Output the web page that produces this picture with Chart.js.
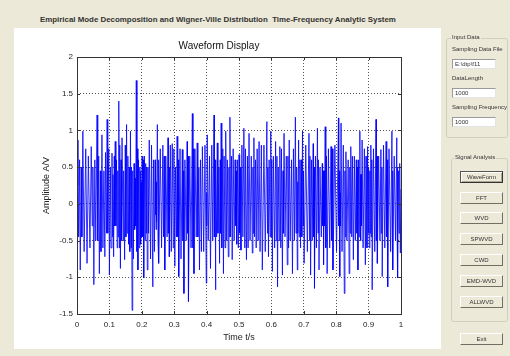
<!DOCTYPE html>
<html>
<head>
<meta charset="utf-8">
<script src="https://cdn.jsdelivr.net/npm/chart.js@4.4.1/dist/chart.umd.min.js"></script>
<style>
  body { margin: 0; width: 510px; height: 356px; background: #ece9d8; position: relative; overflow: hidden;
         font-family: "Liberation Sans", Arial, sans-serif; color: #222; }
  #apptitle { position: absolute; left: 40px; top: 15px; font-size: 7.9px; font-weight: bold; white-space: pre; color: #333; }
  #panel { position: absolute; left: 14px; top: 28px; width: 427px; height: 321px; background: #fff; }
  #wrap { position: absolute; left: 0; top: 0; width: 510px; height: 356px; }
  .group { position: absolute; border: 1px solid #d0d0bf; border-radius: 3px; }
  .glabel { position: absolute; font-size: 6px; background: #ece9d8; padding: 0 1px; color: #333; }
  .lbl { position: absolute; font-size: 6px; color: #333; white-space: nowrap; }
  .edit { position: absolute; width: 40px; height: 8px; background: #fff; font-size: 6px; line-height: 8px; padding-left: 2px;
          border: 1px solid; border-color: #9a9a9a #e4e4e4 #e4e4e4 #9a9a9a; color: #333; box-sizing: content-box; }
  .btn { position: absolute; left: 460px; width: 41px; height: 10px; font-size: 6px; line-height: 10px; text-align: center;
         background: #ece9d8; border: 1px solid; border-color: #fff #716f64 #716f64 #fff; color: #333; }
  .btn.on { border-color: #555 #333 #333 #555; box-shadow: inset 1px 1px #fff, inset -1px -1px #aca899; }
</style>
</head>
<body>
<div id="apptitle">Empirical Mode Decomposition and Wigner-Ville Distribution  Time-Frequency Analytic System</div>
<div id="panel"></div>
<div id="wrap"><canvas id="chart" width="510" height="356"></canvas></div>

<div class="group" style="left:446px; top:38px; width:60px; height:98px;"></div>
<div class="glabel" style="left:451px; top:34px;">Input Data</div>
<div class="lbl" style="left:452px; top:46px;">Sampling Data File</div>
<div class="edit" style="left:452px; top:59px;">E:\dtp\f11</div>
<div class="lbl" style="left:452px; top:75px;">DataLength</div>
<div class="edit" style="left:452px; top:88px;">1000</div>
<div class="lbl" style="left:452px; top:104px;">Sampling Frequency</div>
<div class="edit" style="left:452px; top:117px;">1000</div>

<div class="group" style="left:451px; top:158px; width:55px; height:162px;"></div>
<div class="glabel" style="left:454px; top:154px;">Signal Analysis</div>
<div class="btn on" style="top:171px;">WaveForm</div>
<div class="btn" style="top:192px;">FFT</div>
<div class="btn" style="top:212px;">WVD</div>
<div class="btn" style="top:233px;">SPWVD</div>
<div class="btn" style="top:254px;">CWD</div>
<div class="btn" style="top:275px;">EMD-WVD</div>
<div class="btn" style="top:296px;">ALLWVD</div>
<div class="btn" style="top:333px;">Exit</div>

<script>
// waveform, one row per cycle:
// big peak, small dip, small rise, big trough, small rise, small dip
const sampleTimes = [
  0.000,
  0.003, 0.005, 0.008, 0.010, 0.013, 0.015,
  0.018, 0.022, 0.027, 0.031, 0.035, 0.040,
  0.044, 0.047, 0.049, 0.052, 0.055, 0.058,
  0.062, 0.064, 0.067, 0.069, 0.072, 0.074,
  0.077, 0.080, 0.083, 0.086, 0.088, 0.091,
  0.093, 0.095, 0.098, 0.100, 0.103, 0.105,
  0.108, 0.110, 0.111, 0.113, 0.115, 0.116,
  0.118, 0.120, 0.122, 0.124, 0.126, 0.127,
  0.129, 0.131, 0.132, 0.134, 0.136, 0.137,
  0.139, 0.142, 0.144, 0.147, 0.149, 0.151,
  0.153, 0.155, 0.157, 0.159, 0.161, 0.163,
  0.165, 0.167, 0.168, 0.170, 0.172, 0.174,
  0.176, 0.177, 0.178, 0.179, 0.180, 0.181,
  0.183, 0.185, 0.186, 0.188, 0.190, 0.192,
  0.194, 0.195, 0.196, 0.197, 0.198, 0.199,
  0.201, 0.203, 0.204, 0.206, 0.208, 0.210,
  0.212, 0.214, 0.215, 0.217, 0.219, 0.221,
  0.223, 0.227, 0.230, 0.234, 0.236, 0.239,
  0.241, 0.242, 0.243, 0.244, 0.245, 0.246,
  0.248, 0.250, 0.251, 0.253, 0.257, 0.261,
  0.265, 0.267, 0.269, 0.271, 0.274, 0.278,
  0.281, 0.282, 0.284, 0.285, 0.288, 0.291,
  0.294, 0.297, 0.299, 0.302, 0.304, 0.307,
  0.309, 0.311, 0.312, 0.314, 0.318, 0.321,
  0.325, 0.327, 0.328, 0.330, 0.333, 0.337,
  0.340, 0.341, 0.343, 0.344, 0.348, 0.352,
  0.356, 0.358, 0.359, 0.361, 0.364, 0.368,
  0.371, 0.373, 0.376, 0.378, 0.381, 0.384,
  0.387, 0.391, 0.395, 0.399, 0.400, 0.401,
  0.402, 0.405, 0.409, 0.412, 0.416, 0.419,
  0.423, 0.424, 0.426, 0.427, 0.429, 0.431,
  0.433, 0.435, 0.438, 0.440, 0.442, 0.443,
  0.445, 0.447, 0.450, 0.452, 0.454, 0.457,
  0.459, 0.462, 0.464, 0.467, 0.469, 0.470,
  0.472, 0.474, 0.477, 0.479, 0.482, 0.485,
  0.488, 0.490, 0.491, 0.493, 0.495, 0.498,
  0.500, 0.502, 0.504, 0.506, 0.509, 0.512,
  0.515, 0.518, 0.520, 0.523, 0.526, 0.528,
  0.531, 0.534, 0.538, 0.541, 0.543, 0.544,
  0.546, 0.548, 0.551, 0.553, 0.556, 0.559,
  0.562, 0.565, 0.569, 0.572, 0.577, 0.581,
  0.586, 0.588, 0.589, 0.591, 0.593, 0.596,
  0.598, 0.600, 0.601, 0.603, 0.606, 0.610,
  0.613, 0.615, 0.617, 0.619, 0.621, 0.624,
  0.626, 0.629, 0.631, 0.634, 0.636, 0.637,
  0.639, 0.642, 0.646, 0.649, 0.651, 0.653,
  0.655, 0.658, 0.662, 0.665, 0.668, 0.671,
  0.674, 0.676, 0.678, 0.680, 0.681, 0.682,
  0.684, 0.686, 0.688, 0.690, 0.692, 0.694,
  0.696, 0.698, 0.699, 0.701, 0.706, 0.711,
  0.716, 0.718, 0.719, 0.721, 0.724, 0.726,
  0.729, 0.730, 0.732, 0.733, 0.736, 0.739,
  0.742, 0.744, 0.745, 0.747, 0.750, 0.754,
  0.757, 0.758, 0.760, 0.761, 0.763, 0.764,
  0.766, 0.768, 0.770, 0.772, 0.776, 0.780,
  0.784, 0.786, 0.788, 0.790, 0.796, 0.801,
  0.807, 0.808, 0.810, 0.811, 0.812, 0.813,
  0.815, 0.818, 0.822, 0.825, 0.827, 0.828,
  0.830, 0.833, 0.837, 0.840, 0.842, 0.843,
  0.845, 0.848, 0.850, 0.853, 0.856, 0.859,
  0.862, 0.864, 0.865, 0.867, 0.869, 0.871,
  0.873, 0.874, 0.875, 0.876, 0.877, 0.878,
  0.880, 0.883, 0.887, 0.890, 0.892, 0.895,
  0.897, 0.899, 0.900, 0.902, 0.904, 0.905,
  0.907, 0.908, 0.910, 0.911, 0.915, 0.919,
  0.923, 0.924, 0.926, 0.927, 0.931, 0.935,
  0.938, 0.939, 0.941, 0.942, 0.946, 0.950,
  0.954, 0.956, 0.957, 0.959, 0.963, 0.968,
  0.972, 0.973, 0.974, 0.975, 0.979, 0.983,
  0.987, 0.988, 0.989, 0.990, 0.992, 0.994,
  0.996, 0.998, 1.000
];

const amplitude = [
  0.25,
  0.87, -0.45, 0.60, -0.90, 0.50, -0.45,
  0.99, -0.65, 0.75, -0.81, 0.65, -0.60,
  0.78, -0.30, 0.50, -1.10, 0.60, -0.50,
  1.21, -0.50, 0.65, -0.95, 0.45, -0.65,
  0.94, -0.60, 0.45, -0.72, 0.70, -0.40,
  1.15, -0.40, 0.75, -0.97, 0.50, -0.60,
  0.69, -0.45, 0.40, -0.72, 0.65, -0.30,
  0.85, -0.30, 0.60, -0.60, 0.45, -0.45,
  1.40, -0.60, 0.80, -0.88, 0.60, -0.50,
  0.90, -0.50, 0.45, -0.76, 0.80, -0.45,
  1.08, -0.40, 0.65, -0.55, 0.50, -0.65,
  0.99, -0.60, 0.50, -1.45, 0.45, -0.75,
  0.55, -0.25, 0.30, -0.35, 0.35, -0.30,
  1.68, -0.65, 0.75, -0.90, 0.60, -0.60,
  0.50, -0.30, 0.45, -0.55, 0.30, -0.45,
  0.65, -0.45, 0.60, -1.01, 0.65, -0.50,
  0.55, -0.40, 0.50, -0.90, 0.50, -0.40,
  0.87, -0.75, 0.80, -1.13, 0.60, -0.65,
  0.60, -0.15, 0.30, -0.35, 0.30, -0.25,
  1.08, -0.50, 0.60, -0.81, 0.75, -0.60,
  0.80, -0.45, 0.65, -0.90, 0.65, -0.45,
  0.90, -0.40, 0.50, -0.72, 0.80, -0.65,
  0.82, -0.60, 0.75, -0.85, 0.50, -0.45,
  0.92, -0.45, 0.60, -0.99, 0.75, -0.75,
  0.74, -0.50, 0.45, -1.22, 0.60, -0.50,
  0.85, -0.40, 0.65, -1.33, 0.65, -0.60,
  1.23, -0.60, 0.75, -0.95, 0.75, -0.45,
  0.83, -0.45, 0.50, -0.90, 0.60, -0.65,
  0.78, -0.65, 0.80, -1.08, 0.15, -0.30,
  0.94, -0.50, 0.65, -0.88, 0.80, -0.50,
  1.21, -0.45, 0.60, -1.17, 0.50, -0.45,
  0.83, -0.40, 0.50, -0.81, 0.60, -0.40,
  1.10, -0.60, 0.75, -0.95, 0.65, -0.60,
  0.99, -0.50, 0.60, -0.72, 0.50, -0.45,
  1.18, -0.45, 0.65, -0.76, 0.75, -0.50,
  0.60, -0.30, 0.45, -0.55, 0.60, -0.60,
  0.67, -0.40, 0.50, -0.63, 0.80, -0.45,
  1.03, -0.60, 0.75, -0.76, 0.65, -0.60,
  0.96, -0.50, 0.65, -0.67, 0.50, -0.40,
  0.90, -0.45, 0.60, -0.60, 0.75, -0.50,
  0.85, -0.65, 0.80, -0.90, 0.80, -0.65,
  1.12, -0.40, 0.50, -0.72, 0.60, -0.45,
  0.99, -0.45, 0.60, -0.92, 0.65, -0.60,
  0.85, -0.50, 0.65, -1.13, 0.50, -0.50,
  0.78, -0.60, 0.75, -0.97, 0.45, -0.40,
  0.96, -0.45, 0.65, -0.83, 0.65, -0.60,
  0.87, -0.50, 0.60, -0.95, 0.75, -0.50,
  1.18, -0.40, 0.50, -0.90, 0.30, -0.40,
  0.87, -0.45, 0.60, -0.60, 0.60, -0.45,
  0.99, -0.30, 0.45, -0.81, 0.80, -0.65,
  0.96, -0.50, 0.65, -0.97, 0.60, -0.50,
  0.82, -0.45, 0.50, -1.15, 0.65, -0.60,
  1.03, -0.40, 0.60, -0.90, 0.50, -0.45,
  0.55, -0.30, 0.45, -0.83, 0.45, -0.30,
  1.05, -0.60, 0.65, -0.95, 0.75, -0.60,
  0.78, -0.50, 0.75, -0.90, 0.80, -0.65,
  1.17, -0.30, 0.45, -0.99, 0.15, -0.30,
  1.10, -0.65, 0.80, -1.22, 0.45, -0.45,
  0.71, -0.50, 0.60, -0.95, 0.50, -0.40,
  0.78, -0.45, 0.65, -0.76, 0.65, -0.50,
  0.60, -0.40, 0.50, -0.90, 0.60, -0.45,
  0.99, -0.25, 0.40, -0.50, 0.40, -0.30,
  0.87, -0.60, 0.75, -0.83, 0.65, -0.60,
  0.78, -0.40, 0.50, -0.60, 0.45, -0.40,
  0.80, -0.45, 0.60, -1.17, 0.75, -0.65,
  1.15, -0.50, 0.65, -0.81, 0.65, -0.50,
  0.74, -0.40, 0.50, -0.99, 0.80, -0.60,
  0.85, -0.45, 0.60, -1.13, 0.75, -0.65,
  0.99, -0.30, 0.45, -0.90, 0.65, -0.50,
  0.90, -0.40, 0.50, -1.01, 0.45, -0.40,
  0.55, -0.67, 0.20
];

const timeTicks = [0, 0.1, 0.2, 0.3, 0.4, 0.5, 0.6, 0.7, 0.8, 0.9, 1];
const ampTicks = [-1.5, -1, -0.5, 0, 0.5, 1, 1.5, 2];

const points = sampleTimes.map((t, i) => ({ x: t, y: amplitude[i] }));
const FONT = '"Liberation Sans", Arial, sans-serif';

// matlab style axes box with inward tick marks
const boxPlugin = {
  id: 'box',
  afterDatasetsDraw(chart) {
    const { ctx, chartArea: a, scales } = chart;
    ctx.save();
    ctx.strokeStyle = '#333';
    ctx.lineWidth = 1;
    ctx.strokeRect(Math.round(a.left) + 0.5, Math.round(a.top) + 0.5,
                   Math.round(a.right - a.left), Math.round(a.bottom - a.top));
    ctx.beginPath();
    timeTicks.forEach(v => {
      const x = Math.round(scales.x.getPixelForValue(v)) + 0.5;
      ctx.moveTo(x, a.bottom); ctx.lineTo(x, a.bottom - 3);
      ctx.moveTo(x, a.top); ctx.lineTo(x, a.top + 3);
    });
    ampTicks.forEach(v => {
      const y = Math.round(scales.y.getPixelForValue(v)) + 0.5;
      ctx.moveTo(a.left, y); ctx.lineTo(a.left + 3, y);
      ctx.moveTo(a.right, y); ctx.lineTo(a.right - 3, y);
    });
    ctx.stroke();
    ctx.restore();
  }
};

new Chart(document.getElementById('chart'), {
  type: 'line',
  data: {
    datasets: [{
      data: points,
      borderColor: '#0000ff',
      borderWidth: 0.8,
      pointRadius: 0,
      tension: 0,
      fill: false
    }]
  },
  options: {
    responsive: false,
    animation: false,
    events: [],
    layout: { padding: { left: 37, right: 109, top: 0, bottom: 9 } },
    plugins: {
      legend: { display: false },
      tooltip: { enabled: false },
      title: {
        display: true,
        text: 'Waveform Display',
        color: '#111',
        font: { family: FONT, size: 10, weight: 'normal' },
        padding: { top: 40, bottom: 5 }
      }
    },
    scales: {
      x: {
        type: 'linear', min: 0, max: 1,
        afterBuildTicks: s => { s.ticks = timeTicks.map(v => ({ value: v })); },
        afterFit: s => { s.height = 33; },
        ticks: { color: '#222', font: { family: FONT, size: 8 }, padding: 6, maxRotation: 0, autoSkip: false,
                 callback: v => String(v) },
        grid: { color: '#555', lineWidth: 1, drawTicks: false },
        border: { display: false, dash: [1, 2] },
        title: { display: true, text: 'Time t/s', color: '#222', font: { family: FONT, size: 9 }, padding: { top: 2, bottom: 4 } }
      },
      y: {
        type: 'linear', min: -1.5, max: 2,
        afterBuildTicks: s => { s.ticks = ampTicks.map(v => ({ value: v })); },
        afterFit: s => { s.width = 40; },
        ticks: { color: '#222', font: { family: FONT, size: 8 }, padding: 4, autoSkip: false,
                 callback: v => String(v) },
        grid: { color: '#555', lineWidth: 1, drawTicks: false },
        border: { display: false, dash: [1, 2] },
        title: { display: true, text: 'Amplitude A/V', color: '#222', font: { family: FONT, size: 9 }, padding: { top: 4, bottom: 2 } }
      }
    }
  },
  plugins: [boxPlugin]
});
</script>
</body>
</html>
